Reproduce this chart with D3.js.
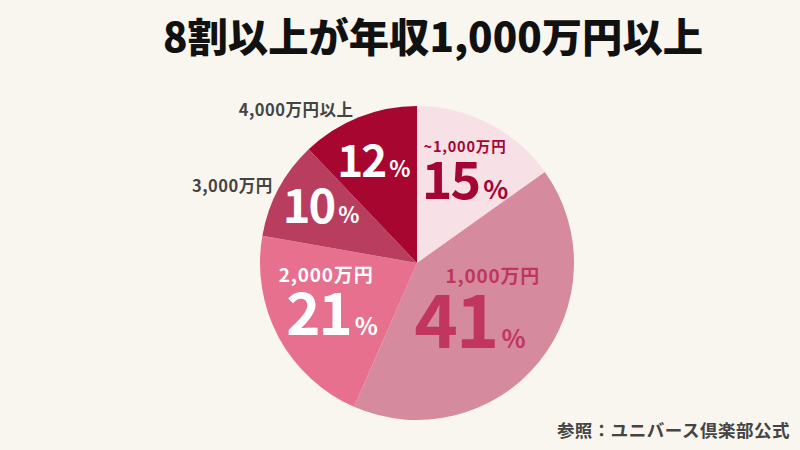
<!DOCTYPE html>
<html><head><meta charset="utf-8">
<script src="https://cdn.jsdelivr.net/npm/d3@7/dist/d3.min.js"></script>
<style>
html,body{margin:0;padding:0;background:#f8f6ef;}
svg{display:block;}
</style></head>
<body><svg id="c" width="800" height="450"></svg>
<script>
const categories = ["~1,000万円", "1,000万円", "2,000万円", "3,000万円", "4,000万円以上"];
const values = [15, 41, 21, 10, 12];
const colors = ["#f7e1e6", "#d58b9d", "#e8708f", "#b93d5e", "#a6062f"];
const textColors = ["#a50533", "#c0365e", "#ffffff", "#ffffff", "#ffffff"];
const title = "8割以上が年収1,000万円以上";
const source = "参照：ユニバース倶楽部公式";

// layout (not data)
const numPos = [[30, 96], [138, 79], [239, 99], [300.7, 111.6], [337, 110.7]]; // angle deg, radius
const numSize = [52, 74, 58, 47, 44];
const pctSize = [26, 25, 24, 22, 22];
const nameInside = [true, true, true, false, false];
const nameOffset = [[0, -27.5], [23, -39], [-6, -32], null, null];
const nameSize = [14.5, 19, 19, 16.5, 16.5];
const outsidePos = [null, null, null, [292.6, 200], [321.7, 195]];

const W = 800, H = 450, cx = 417, cy = 263, R = 157;
const svg = d3.select("#c");
svg.append("rect").attr("width", W).attr("height", H).attr("fill", "#f8f6ef");

const font = "'Noto Sans CJK JP','Noto Sans',sans-serif";

svg.append("text").attr("x", 433).attr("y", 52).attr("text-anchor", "middle")
  .attr("font-family", font).attr("font-weight", 900).attr("font-size", 40)
  .attr("textLength", 540).attr("lengthAdjust", "spacingAndGlyphs")
  .attr("fill", "#111").text(title);

const pie = d3.pie().sort(null).value(d => d)(values);
const arc = d3.arc().innerRadius(0).outerRadius(R);
const g = svg.append("g").attr("transform", `translate(${cx},${cy})`);
g.selectAll("path").data(pie).join("path").attr("d", arc).attr("fill", (d, i) => colors[i]);

function polar(a, r) { const t = a * Math.PI / 180; return [r * Math.sin(t), -r * Math.cos(t)]; }

pie.forEach((d, i) => {
  const [x, y] = polar(numPos[i][0], numPos[i][1]);
  const t = g.append("text").attr("x", x).attr("y", y + numSize[i] * 0.36)
    .attr("text-anchor", "middle").attr("font-family", font).attr("font-weight", 700)
    .attr("fill", textColors[i]);
  t.append("tspan").attr("font-size", numSize[i]).attr("letter-spacing", -2).text(values[i]);
  t.append("tspan").attr("font-size", pctSize[i]).attr("dx", 4).text("%");
  if (nameInside[i]) {
    g.append("text").attr("x", x + nameOffset[i][0]).attr("y", y + nameOffset[i][1])
      .attr("text-anchor", "middle").attr("font-family", font).attr("font-weight", 700)
      .attr("font-size", nameSize[i]).attr("letter-spacing", 0.8)
      .attr("fill", textColors[i]).text(categories[i]);
  } else {
    const [ox, oy] = polar(outsidePos[i][0], outsidePos[i][1]);
    g.append("text").attr("x", ox).attr("y", oy + 6)
      .attr("text-anchor", "middle").attr("font-family", font).attr("font-weight", 700)
      .attr("font-size", nameSize[i]).attr("letter-spacing", 0.5)
      .attr("fill", "#444").text(categories[i]);
  }
});

svg.append("text").attr("x", 790).attr("y", 437).attr("text-anchor", "end")
  .attr("font-family", font).attr("font-weight", 700).attr("font-size", 17.5)
  .attr("letter-spacing", 0.5).attr("fill", "#444").text(source);
</script></body></html>
